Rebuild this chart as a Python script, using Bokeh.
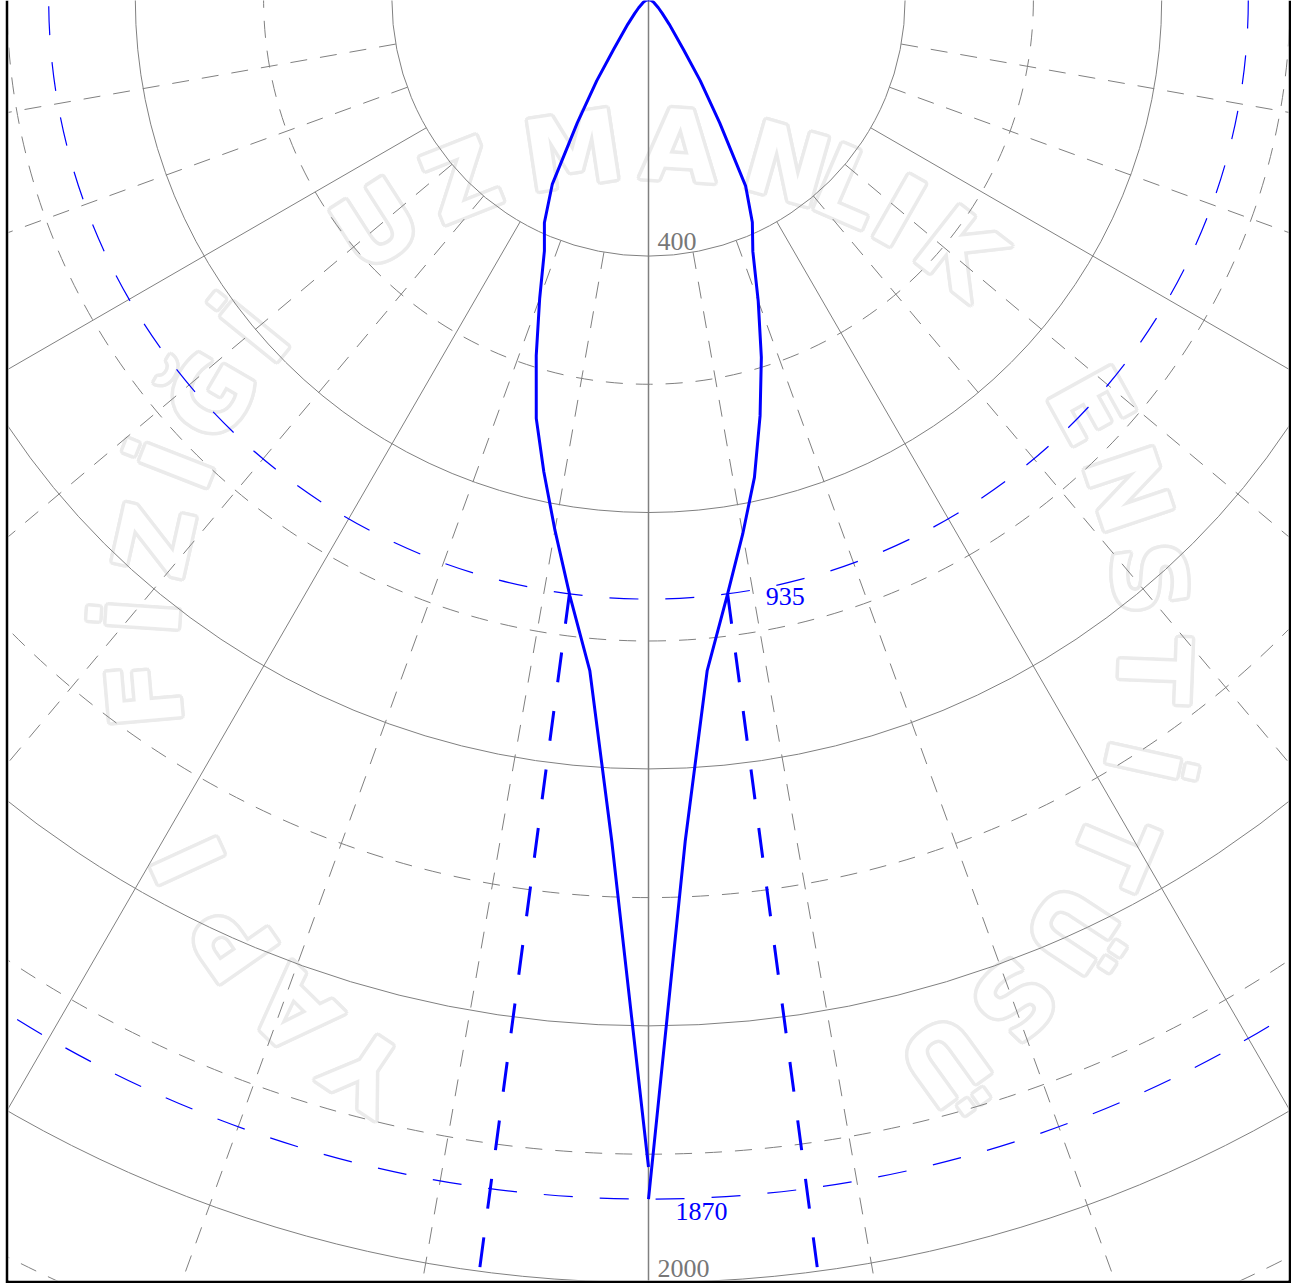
import numpy as np
from bokeh.plotting import figure
from bokeh.models import Label, Range1d
from bokeh.core.properties import value
from bokeh.embed import file_html
from bokeh.resources import INLINE

# ---------------- data ----------------
gamma_deg = [0, 2.5, 5, 7.5, 10, 12.5, 15, 17.5, 20, 22.5, 25, 27.5,
             30, 32.5, 35, 40, 45, 50, 60, 70, 90]
intensity_c0 = [1870, 1313, 1050, 938, 846, 763, 672, 585, 500, 425, 383, 328,
                222, 150, 95, 50, 30, 20, 10, 5, 0]
intensity_c180 = [1820, 1313, 1050, 938, 840, 754, 676, 582, 496, 424, 384, 325,
                  222, 150, 95, 50, 30, 20, 10, 5, 0]
i_max = 1870
i_half = 935
solid_rings = [400, 800, 1200, 1600, 2000, 2400, 2800]
dashed_rings = [600, 1000, 1400, 1800, 2200, 2600]
radial_angles = list(range(10, 360, 10))
ring_tick_labels = ["400", "2000"]

# watermark (faint seal text around the chart)
wm_letters = list("YAPI") + list("FİZİĞİ") + list("UZMANLIK") + list("ENSTİTÜSÜ")
wm_bearing = [-146, -135.5, -125, -114.5,
              -95, -86.2, -77.4, -68.6, -59.8, -51,
              -32.6, -21.7, -8.6, 3.5, 15.9, 23.3, 29.7, 38,
              61, 71.4, 81.8, 92.2, 102.6, 113, 123.4, 133.8, 144.2]

# ---------------- layout ----------------
K = 0.6415            # px per cd
FRAME_W, FRAME_H = 1280, 1280
CX, CY = 640, 1       # polar centre: 640 px from frame left, 1 px above frame top
GRID = "#808080"
BLUE = "#0000ff"
R_OUT = 3200
WM_CY = -651 / K      # watermark circle centre (data y)
WM_R = 505 / K        # watermark circle radius (data units)
HALO = 3.5 / K        # watermark outline thickness (data units)

p = figure(width=FRAME_W + 6, height=FRAME_H + 3,
           x_range=Range1d(-CX / K, (FRAME_W - CX) / K),
           y_range=Range1d(-(FRAME_H + CY) / K, -CY / K),
           output_backend="svg", toolbar_location=None,
           x_axis_location=None, y_axis_location=None,
           min_border_left=3, min_border_right=3, min_border_top=0, min_border_bottom=3,
           border_fill_color="black", background_fill_color="white",
           outline_line_color=None, margin=(0, 0, 0, 5))
p.grid.visible = False

# watermark: outlined letters = grey shifted copies, then white copies on top (one renderer)
wb = np.radians(wm_bearing)
wx = WM_R * np.sin(wb)
wy = WM_CY + WM_R * np.cos(wb)
shifts = [(HALO * np.cos(2 * np.pi * k / 12), HALO * np.sin(2 * np.pi * k / 12)) for k in range(12)]
shifts.append((0.0, 0.0))
all_x, all_y, all_t, all_a, all_c = [], [], [], [], []
for j, (dx, dy) in enumerate(shifts):
    all_x += list(wx + dx)
    all_y += list(wy + dy)
    all_t += wm_letters
    all_a += list(-wb)
    all_c += ["white" if j == len(shifts) - 1 else "#ebebeb"] * len(wm_letters)
p.text(x=all_x, y=all_y, text=all_t, angle=all_a, text_color=all_c,
       text_font=value("DejaVu Sans"), text_font_style="bold", text_font_size="98px",
       text_align="center", text_baseline="middle")

# rings
n = len(solid_rings)
p.circle(x=[0] * n, y=[0] * n, radius=solid_rings, fill_color=None,
         line_color=GRID, line_width=1)
n = len(dashed_rings)
p.circle(x=[0] * n, y=[0] * n, radius=dashed_rings, fill_color=None,
         line_color=GRID, line_width=1, line_dash="17 13")

# radial lines (from the 400 ring outwards)
ang = np.radians(radial_angles)
r0 = solid_rings[0]
solid_mask = np.array([a % 30 == 0 for a in radial_angles])
p.segment(x0=(r0 * np.sin(ang))[solid_mask], y0=(-r0 * np.cos(ang))[solid_mask],
          x1=(R_OUT * np.sin(ang))[solid_mask], y1=(-R_OUT * np.cos(ang))[solid_mask],
          line_color=GRID, line_width=1)
p.segment(x0=(r0 * np.sin(ang))[~solid_mask], y0=(-r0 * np.cos(ang))[~solid_mask],
          x1=(R_OUT * np.sin(ang))[~solid_mask], y1=(-R_OUT * np.cos(ang))[~solid_mask],
          line_color=GRID, line_width=1, line_dash="17 13")
# vertical axis from the centre
p.segment(x0=[0], y0=[0], x1=[0], y1=[-R_OUT], line_color=GRID, line_width=1.5)

# half-max and max rings
p.circle(x=[0, 0], y=[0, 0], radius=[i_half, i_max], fill_color=None,
         line_color=BLUE, line_width=1.2, line_dash="29 27")

# half-angle lines
g = np.array(gamma_deg)
half_r = np.radians(np.interp(i_half, np.array(intensity_c0)[::-1], g[::-1]))
half_l = np.radians(np.interp(i_half, np.array(intensity_c180)[::-1], g[::-1]))
p.segment(x0=[i_half * np.sin(half_r), -i_half * np.sin(half_l)],
          y0=[-i_half * np.cos(half_r), -i_half * np.cos(half_l)],
          x1=[R_OUT * np.sin(half_r), -R_OUT * np.sin(half_l)],
          y1=[-R_OUT * np.cos(half_r), -R_OUT * np.cos(half_l)],
          line_color=BLUE, line_width=3, line_dash="30 29")

# intensity curve (C0 to the right, C180 to the left)
gr = np.radians(g)
i0 = np.array(intensity_c0, dtype=float)
i180 = np.array(intensity_c180, dtype=float)
p.line(i0 * np.sin(gr), -i0 * np.cos(gr), line_color=BLUE, line_width=3, line_join="round")
p.line(-i180 * np.sin(gr), -i180 * np.cos(gr), line_color=BLUE, line_width=3, line_join="round")

FONT = "Liberation Serif"
for t in ring_tick_labels:
    p.add_layout(Label(x=0, y=-float(t), text=t, x_offset=9, y_offset=6,
                       text_baseline="bottom", text_align="left",
                       text_font=FONT, text_font_size="26px", text_color="#777777",
                       background_fill_color="white" if t != "2000" else None))
p.add_layout(Label(x=i_half * np.sin(half_r), y=-i_half * np.cos(half_r), text=str(i_half),
                   x_offset=38, y_offset=-2, text_baseline="middle", text_align="left",
                   text_font=FONT, text_font_size="26px", text_color=BLUE,
                   background_fill_color="white"))
p.add_layout(Label(x=0, y=-i_max, text=str(i_max), x_offset=27, y_offset=-4,
                   text_baseline="top", text_align="left",
                   text_font=FONT, text_font_size="26px", text_color=BLUE,
                   background_fill_color="white"))

open("out.html", "w").write(file_html(p, INLINE))
